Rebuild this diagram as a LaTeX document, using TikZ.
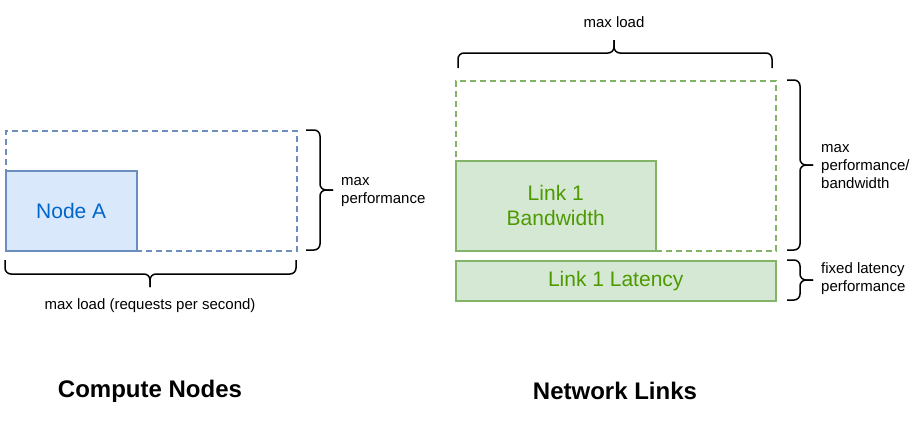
\documentclass[tikz,border=0pt]{standalone}
\usepackage{fontspec}
\setmainfont{Liberation Sans}
\definecolor{bluebordo}{HTML}{6C8EBF}
\definecolor{bluefondo}{HTML}{DAE8FC}
\definecolor{bluetesto}{HTML}{0066CC}
\definecolor{verdebordo}{HTML}{82B366}
\definecolor{verdefondo}{HTML}{D5E8D4}
\definecolor{verdetesto}{HTML}{4D9900}
\tikzset{
  limite/.style={draw, line width=1.5pt, dash pattern=on 6pt off 4pt, inner sep=0pt, anchor=north west},
  scatola/.style={draw, line width=1.5pt, inner sep=0pt, anchor=north west, align=center,
    font=\fontsize{21pt}{25pt}\selectfont},
  graffa/.style={line width=1.5pt, rounded corners=6pt},
  etichetta/.style={font=\fontsize{15pt}{18pt}\selectfont, align=left, inner sep=0pt},
  titolo/.style={font=\fontsize{24pt}{28pt}\selectfont\bfseries, inner sep=0pt}
}
\begin{document}
\begin{tikzpicture}[x=1pt, y=-1pt]
  \useasboundingbox (0,0) rectangle (916,421);
  % Nodi di calcolo
  \node[limite, bluebordo, minimum width=291pt, minimum height=120pt] (maxnodo) at (5,130) {};
  \node[scatola, bluebordo, fill=bluefondo, text=bluetesto, minimum width=131pt, minimum height=80pt] (nodoA) at (5,170) {Node A};
  % Graffe dei nodi
  \draw[graffa] (306,130) -- (320,130) -- (320,190) -- (333,190);
  \draw[graffa] (306,250) -- (320,250) -- (320,190) -- (333,190);
  \draw[graffa] (5,260) -- (5,274) -- (150,274) -- (150,287);
  \draw[graffa] (296,260) -- (296,274) -- (150,274) -- (150,287);
  \node[etichetta, anchor=west] (perfnodo) at (341,192) {max\\performance};
  \node[etichetta] (carico) at (150,306) {max load (requests per second)};
  % Collegamenti di rete
  \node[limite, verdebordo, minimum width=320pt, minimum height=170pt] (maxlink) at (455,80) {};
  \node[scatola, verdebordo, fill=verdefondo, text=verdetesto, minimum width=200pt, minimum height=90pt] (banda) at (455,160) {Link 1\\Bandwidth};
  \node[scatola, verdebordo, fill=verdefondo, text=verdetesto, minimum width=320pt, minimum height=40pt] (latenza) at (455,260) {Link 1 Latency};
  % Graffe dei collegamenti
  \draw[graffa] (458,68) -- (458,53) -- (614,53) -- (614,40);
  \draw[graffa] (772,68) -- (772,53) -- (614,53) -- (614,40);
  \draw[graffa] (787,80) -- (800,80) -- (800,165) -- (813,165);
  \draw[graffa] (787,250) -- (800,250) -- (800,165) -- (813,165);
  \draw[graffa] (787,260) -- (800,260) -- (800,280) -- (813,280);
  \draw[graffa] (787,300) -- (800,300) -- (800,280) -- (813,280);
  \node[etichetta] (caricolink) at (614,22) {max load};
  \node[etichetta, anchor=west] (perflink) at (821,167) {max\\performance/\\bandwidth};
  \node[etichetta, anchor=west] (perflat) at (821,279) {fixed latency\\performance};
  % Titoli
  \node[titolo] (titolonodi) at (150,391) {Compute Nodes};
  \node[titolo] (titololink) at (615,391) {Network Links};
\end{tikzpicture}
\end{document}
